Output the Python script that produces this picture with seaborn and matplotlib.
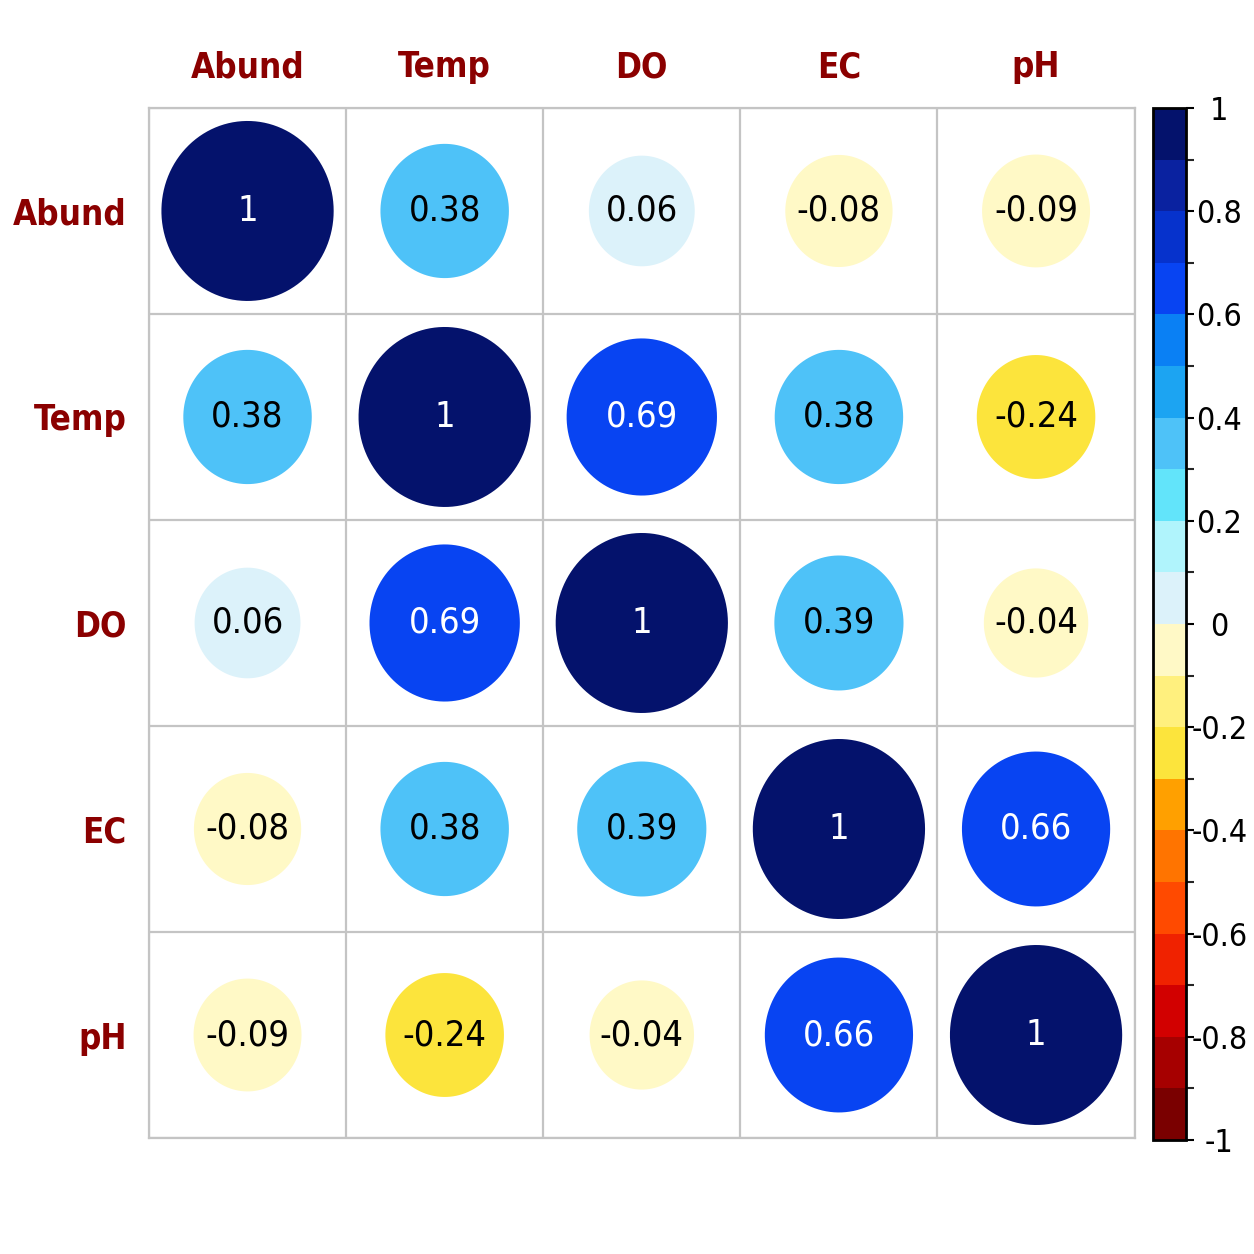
import numpy as np
import pandas as pd
import matplotlib
matplotlib.use("Agg")
import matplotlib.pyplot as plt
import seaborn as sns
from matplotlib.colors import ListedColormap, Normalize
from matplotlib.cm import ScalarMappable
from matplotlib.path import Path
from matplotlib import font_manager

# ---- data ----
variables = ["Abund", "Temp", "DO", "EC", "pH"]
row_abund = [1.00, 0.38, 0.06, -0.08, -0.09]
row_temp = [0.38, 1.00, 0.69, 0.38, -0.24]
row_do = [0.06, 0.69, 1.00, 0.39, -0.04]
row_ec = [-0.08, 0.38, 0.39, 1.00, 0.66]
row_ph = [-0.09, -0.24, -0.04, 0.66, 1.00]
cbar_ticks = [-1.0, -0.8, -0.6, -0.4, -0.2, 0.0, 0.2, 0.4, 0.6, 0.8, 1.0]
cbar_labels = ["-1", "-0.8", "-0.6", "-0.4", "-0.2", "0", "0.2", "0.4", "0.6", "0.8", "1"]

# 20-step palette from -1 to 1
palette_colors = [
    "#7A0000", "#A60000", "#D20000", "#F02200", "#FF4A00",
    "#FF7400", "#FFA000", "#FCE43C", "#FFF07E", "#FFF9C6",
    "#DCF2FA", "#B0F4FC", "#62E4FA", "#4EC2F8", "#1CA4F2",
    "#0A80F4", "#0844F2", "#0632CC", "#0A22A0", "#04126C",
]
cmap = ListedColormap(palette_colors)
norm = Normalize(-1, 1)

matrix = [row_abund, row_temp, row_do, row_ec, row_ph]
records = []
for i, rname in enumerate(variables):
    for j, cname in enumerate(variables):
        r = matrix[i][j]
        frac = 0.59 + 0.41 * abs(r)
        records.append({"col": cname, "row": rname, "r": r, "area": frac ** 2})
df = pd.DataFrame(records)

sns.set_theme(style="white")

# font choice: a narrow sans if present
ttf = font_manager.fontManager.ttflist
names = {f.name for f in ttf}
stretch_kw = {}
if "Liberation Sans Narrow" in names:
    fam = ["Liberation Sans Narrow", "DejaVu Sans"]
    lab_fs, val_fs, cb_fs = 29, 28, 25
elif any(f.name == "DejaVu Sans" and str(f.stretch) in ("condensed", "semi-condensed") for f in ttf):
    fam = ["DejaVu Sans"]
    stretch_kw = {"fontstretch": "condensed"}
    lab_fs, val_fs, cb_fs = 25, 26, 23
else:
    fam = ["Liberation Sans", "DejaVu Sans"]
    lab_fs, val_fs, cb_fs = 25, 25, 21
plt.rcParams["font.family"] = fam
if stretch_kw:
    plt.rcParams["font.stretch"] = "condensed"

fig = plt.figure(figsize=(12.54, 12.54), dpi=100)
ax = fig.add_axes([0.1188, 0.0925, 0.786, 0.8214])

# slightly tall ellipse marker (cells are a bit taller than wide)
theta = np.linspace(0, 2 * np.pi, 120)
ell = Path(np.column_stack([np.cos(theta) / 1.045, np.sin(theta)]), closed=True)

smax = (180 * 0.72) ** 2
sns.scatterplot(
    data=df, x="col", y="row", hue="r", hue_norm=(-1, 1), palette=cmap,
    size="area", size_norm=(0, 1), sizes=(0, smax), marker=ell,
    linewidth=0, edgecolor="none", legend=False, ax=ax, zorder=3,
)

for _, rec in df.iterrows():
    txt = "1" if rec["r"] == 1 else f"{rec['r']:.2f}"
    col = "white" if abs(rec["r"]) >= 0.6 else "black"
    ax.text(rec["col"], rec["row"], txt, ha="center", va="center",
            fontsize=val_fs, color=col, zorder=4, **stretch_kw)

ax.set_xlim(-0.5, 4.5)
ax.set_ylim(4.5, -0.5)
ax.set_xticks(range(5))
ax.set_yticks(range(5))
ax.set_xticks(np.arange(-0.5, 5, 1), minor=True)
ax.set_yticks(np.arange(-0.5, 5, 1), minor=True)
ax.grid(which="minor", color="#c4c4c4", linewidth=1.6)
ax.grid(which="major", visible=False)
ax.set_axisbelow(True)
ax.xaxis.tick_top()
ax.set_xticklabels(variables, fontsize=lab_fs, fontweight="bold", color="#8B0000", **stretch_kw)
ax.set_yticklabels(variables, fontsize=lab_fs, fontweight="bold", color="#8B0000", **stretch_kw)
ax.tick_params(axis="x", which="both", length=0, pad=17)
ax.tick_params(axis="y", which="both", length=0, pad=16)
ax.set_xlabel("")
ax.set_ylabel("")
for s in ax.spines.values():
    s.set_color("#c4c4c4")
    s.set_linewidth(1.6)

# colorbar
cax = fig.add_axes([0.9195, 0.0909, 0.0263, 0.823])
sm = ScalarMappable(norm=norm, cmap=cmap)
cb = fig.colorbar(sm, cax=cax, ticks=cbar_ticks)
cb.ax.set_yticklabels(cbar_labels, **stretch_kw)
cb.ax.set_yticks(np.arange(-1, 1.01, 0.1), minor=True)
cb.outline.set_linewidth(2)
cb.outline.set_edgecolor("black")
cb.ax.tick_params(which="major", length=6, width=1.5, pad=18, labelsize=cb_fs,
                  right=True, direction="out", colors="black")
cb.ax.tick_params(which="minor", length=6, width=1.5, right=True, direction="out")
for lab in cb.ax.get_yticklabels():
    lab.set_horizontalalignment("center")

fig.savefig("out.png", dpi=100, facecolor="white")
